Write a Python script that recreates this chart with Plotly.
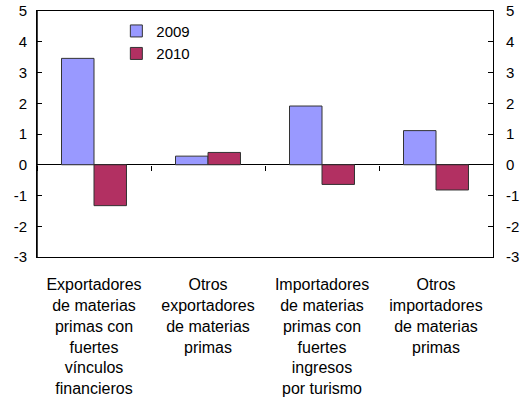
import plotly.graph_objects as go

categories = [
    "Exportadores<br>de materias<br>primas con<br>fuertes<br>vínculos<br>financieros",
    "Otros<br>exportadores<br>de materias<br>primas",
    "Importadores<br>de materias<br>primas con<br>fuertes<br>ingresos<br>por turismo",
    "Otros<br>importadores<br>de materias<br>primas",
]
values_2009 = [3.46, 0.28, 1.91, 1.11]
values_2010 = [-1.33, 0.40, -0.64, -0.82]
y_min, y_max = -3, 5
y_ticks = [-3, -2, -1, 0, 1, 2, 3, 4, 5]
y_tick_labels = ["-3", "-2", "-1", "0", "1", "2", "3", "4", "5"]

FONT = "Liberation Sans, Arial, sans-serif"
zero_frac = (0 - y_min) / (y_max - y_min)

fig = go.Figure()
fig.add_trace(go.Bar(name="2009", x=categories, y=values_2009,
                     marker=dict(color="#9999FF", line=dict(color="#333333", width=1))))
fig.add_trace(go.Bar(name="2010", x=categories, y=values_2010,
                     marker=dict(color="#B23062", line=dict(color="#333333", width=1))))
# invisible helper traces: one drives the right-hand y axis, one the zero-line category ticks
fig.add_trace(go.Scatter(x=categories, y=[0] * len(categories), xaxis="x", yaxis="y2",
                         mode="markers", marker=dict(opacity=0), showlegend=False,
                         hoverinfo="skip"))
fig.add_trace(go.Scatter(x=categories, y=[0] * len(categories), xaxis="x2", yaxis="y3",
                         mode="markers", marker=dict(opacity=0), showlegend=False,
                         hoverinfo="skip"))

axis_common = dict(linecolor="black", linewidth=1, tickcolor="black", showgrid=False,
                   automargin=False)

fig.update_layout(
    width=531, height=400,
    margin=dict(l=37, r=38, t=11, b=143, autoexpand=False),
    paper_bgcolor="white", plot_bgcolor="rgba(0,0,0,0)",
    font=dict(family=FONT, size=15, color="black"),
    barmode="group", bargap=0.43, bargroupgap=0,
    showlegend=True,
    legend=dict(x=0.174, y=0.985, xanchor="left", yanchor="top",
                bgcolor="rgba(0,0,0,0)", font=dict(size=15),
                tracegroupgap=0, itemwidth=30),
    xaxis=dict(type="category", categoryorder="array", categoryarray=categories,
               showline=True, mirror=True, ticks="", tickfont=dict(size=16),
               ticklabelstandoff=13, zeroline=False, **axis_common),
    xaxis2=dict(type="category", categoryorder="array", categoryarray=categories,
                matches="x", anchor="y3", domain=[0, 1],
                showline=False, ticks="outside", tickson="boundaries", ticklen=5,
                showticklabels=False, zeroline=False, **axis_common),
    yaxis=dict(range=[y_min, y_max], tickvals=y_ticks, ticktext=y_tick_labels,
               showline=True, mirror=True, ticks="inside", ticklen=5,
               ticklabelstandoff=6, zeroline=True, zerolinecolor="black",
               zerolinewidth=1, **axis_common),
    yaxis2=dict(range=[y_min, y_max], tickvals=y_ticks, ticktext=y_tick_labels,
                overlaying="y", matches="y", side="right", anchor="x",
                showline=True, mirror="allticks", ticks="inside", ticklen=5,
                ticklabelstandoff=9, zeroline=False, **axis_common),
    yaxis3=dict(domain=[zero_frac, 1], anchor="x2", visible=False, range=[0, 1]),
    shapes=[dict(type="line", xref="paper", yref="paper", x0=0, x1=0, y0=0, y1=1,
                 line=dict(color="black", width=1.5), layer="above")],
)

fig.write_html("out.html", config={"displayModeBar": False},
               post_script="document.body.style.margin='0';document.body.style.padding='0';")
